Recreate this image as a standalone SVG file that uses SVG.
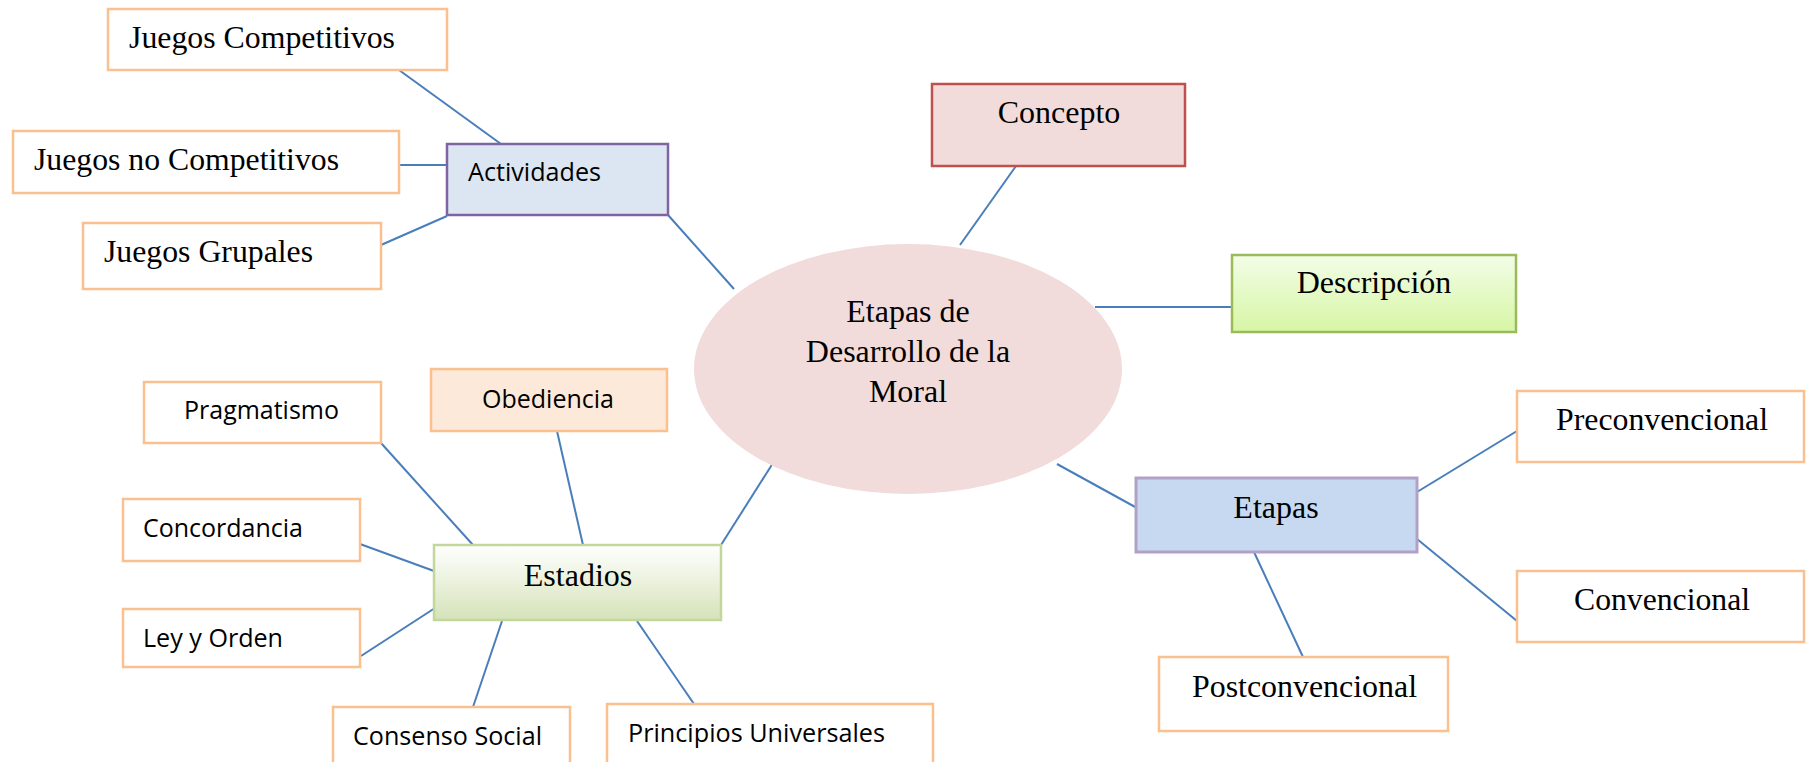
<svg xmlns="http://www.w3.org/2000/svg" width="1806" height="762" viewBox="0 0 1806 762">
<defs>
<linearGradient id="gEst" x1="0" y1="0" x2="0" y2="1">
<stop offset="0" stop-color="#ffffff"/>
<stop offset="1" stop-color="#d5e3b9"/>
</linearGradient>
<linearGradient id="gDesc" x1="0" y1="0" x2="0" y2="1">
<stop offset="0" stop-color="#f3fde8"/>
<stop offset="1" stop-color="#d6f6a4"/>
</linearGradient>
<style>
.c{stroke:#4a7ebb;stroke-width:2;fill:none}
.o{fill:#ffffff;stroke:#fac090;stroke-width:2.5}
.s{font-family:"Liberation Serif","Times New Roman",serif;font-size:32px;fill:#000}
.n{font-family:"Open Sans","Liberation Sans",Arial,sans-serif;font-size:25px;fill:#000}
.m{text-anchor:middle}
</style>
</defs>
<rect width="1806" height="762" fill="#ffffff"/>
<g id="connectors">
<line class="c" x1="399" y1="70" x2="501" y2="144"/>
<line class="c" x1="399" y1="165" x2="447" y2="165"/>
<line class="c" x1="381" y1="245" x2="447" y2="216"/>
<line class="c" x1="668" y1="215" x2="734" y2="289"/>
<line class="c" x1="1016" y1="166" x2="960" y2="245"/>
<line class="c" x1="1095" y1="307" x2="1232" y2="307"/>
<line class="c" x1="1057" y1="464" x2="1137" y2="508"/>
<line class="c" x1="773" y1="463" x2="721" y2="545"/>
<line class="c" x1="1417" y1="492" x2="1517" y2="431"/>
<line class="c" x1="1417" y1="539" x2="1517" y2="621"/>
<line class="c" x1="1254" y1="552" x2="1303" y2="657"/>
<line class="c" x1="381" y1="443" x2="473" y2="545"/>
<line class="c" x1="557" y1="431" x2="583" y2="545"/>
<line class="c" x1="360" y1="544" x2="434" y2="571"/>
<line class="c" x1="361" y1="656" x2="435" y2="608"/>
<line class="c" x1="502" y1="621" x2="473" y2="707"/>
<line class="c" x1="637" y1="621" x2="694" y2="704"/>
</g>
<g id="center">
<ellipse cx="908" cy="369" rx="214" ry="125" fill="#f2dcdb"/>
<text class="s m" x="908" y="322">Etapas de</text>
<text class="s m" x="908" y="362">Desarrollo de la</text>
<text class="s m" x="908" y="402">Moral</text>
</g>
<g id="juegos-competitivos">
<rect class="o" x="108" y="9" width="339" height="61"/>
<text class="s" x="129" y="48" textLength="266" lengthAdjust="spacingAndGlyphs">Juegos Competitivos</text>
</g>
<g id="juegos-no-competitivos">
<rect class="o" x="13" y="131" width="386" height="62"/>
<text class="s" x="34" y="170" textLength="305" lengthAdjust="spacingAndGlyphs">Juegos no Competitivos</text>
</g>
<g id="juegos-grupales">
<rect class="o" x="83" y="223" width="298" height="66"/>
<text class="s" x="104" y="262" textLength="209" lengthAdjust="spacingAndGlyphs">Juegos Grupales</text>
</g>
<g id="actividades">
<rect x="447" y="144" width="221" height="71" fill="#dce6f2" stroke="#8064a2" stroke-width="2.5"/>
<text class="n" x="468" y="181" textLength="133" lengthAdjust="spacingAndGlyphs">Actividades</text>
</g>
<g id="concepto">
<rect x="932" y="84" width="253" height="82" fill="#f2dcdb" stroke="#c0504d" stroke-width="2.5"/>
<text class="s m" x="1059" y="123">Concepto</text>
</g>
<g id="descripcion">
<rect x="1232" y="255" width="284" height="77" fill="url(#gDesc)" stroke="#9bbb59" stroke-width="2.5"/>
<text class="s m" x="1374" y="293">Descripción</text>
</g>
<g id="etapas">
<rect x="1136" y="478" width="281" height="74" fill="#c6d9f1" stroke="#b2a1c7" stroke-width="3"/>
<text class="s m" x="1276" y="518">Etapas</text>
</g>
<g id="preconvencional">
<rect class="o" x="1517" y="391" width="287" height="71"/>
<text class="s" x="1556" y="430" textLength="212" lengthAdjust="spacingAndGlyphs">Preconvencional</text>
</g>
<g id="convencional">
<rect class="o" x="1517" y="571" width="287" height="71"/>
<text class="s" x="1574" y="610" textLength="176" lengthAdjust="spacingAndGlyphs">Convencional</text>
</g>
<g id="postconvencional">
<rect class="o" x="1159" y="657" width="289" height="74"/>
<text class="s" x="1192" y="697" textLength="225" lengthAdjust="spacingAndGlyphs">Postconvencional</text>
</g>
<g id="estadios">
<rect x="434" y="545" width="287" height="75" fill="url(#gEst)" stroke="#c3d69b" stroke-width="2.5"/>
<text class="s m" x="578" y="586">Estadios</text>
</g>
<g id="pragmatismo">
<rect class="o" x="144" y="382" width="237" height="61"/>
<text class="n" x="184" y="419" textLength="155" lengthAdjust="spacingAndGlyphs">Pragmatismo</text>
</g>
<g id="obediencia">
<rect x="431" y="369" width="236" height="62" fill="#fde9d9" stroke="#fac090" stroke-width="2.5"/>
<text class="n" x="482" y="408" textLength="132" lengthAdjust="spacingAndGlyphs">Obediencia</text>
</g>
<g id="concordancia">
<rect class="o" x="123" y="499" width="237" height="62"/>
<text class="n" x="143" y="537" textLength="160" lengthAdjust="spacingAndGlyphs">Concordancia</text>
</g>
<g id="ley-y-orden">
<rect class="o" x="123" y="609" width="237" height="58"/>
<text class="n" x="143" y="647" textLength="140" lengthAdjust="spacingAndGlyphs">Ley y Orden</text>
</g>
<g id="consenso-social">
<rect class="o" x="333" y="707" width="237" height="70"/>
<text class="n" x="353" y="745" textLength="189" lengthAdjust="spacingAndGlyphs">Consenso Social</text>
</g>
<g id="principios-universales">
<rect class="o" x="607" y="704" width="326" height="73"/>
<text class="n" x="628" y="742" textLength="257" lengthAdjust="spacingAndGlyphs">Principios Universales</text>
</g>
</svg>
